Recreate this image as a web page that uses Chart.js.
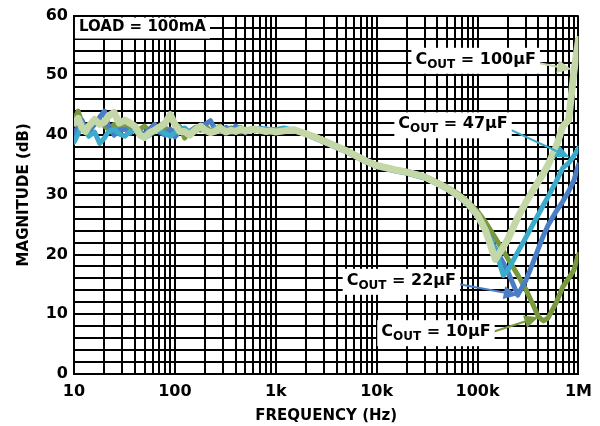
<!DOCTYPE html>
<html>
<head>
<meta charset="utf-8">
<title>Magnitude vs Frequency</title>
<script src="https://cdn.jsdelivr.net/npm/chart.js@4.4.1/dist/chart.umd.min.js"></script>
<style>
  html, body { margin: 0; padding: 0; background: #fff; }
  #wrap { width: 600px; height: 426px; }
</style>
</head>
<body>
<div id="wrap"><canvas id="magChart" width="600" height="426"></canvas></div>
<script>
// Frekuensi (Hz)
const freqs = [
  10, 11, 12, 13, 14, 16, 18, 20, 22, 25,
  28, 32, 36, 40, 45, 50, 56, 63, 70, 80,
  90, 100, 112, 125, 140, 160, 180, 200, 225, 250,
  280, 320, 360, 400, 450, 500, 560, 630, 710, 800,
  900, 1000, 1200, 1500, 1700, 2000, 2500, 3000, 4000, 5000,
  6000, 8000, 10000, 15000, 20000, 30000, 40000, 50000, 60000, 70000,
  80000, 100000, 120000, 150000, 180000, 200000, 250000, 300000, 350000, 400000,
  450000, 500000, 600000, 700000, 800000, 900000, 1000000
];

// Magnitude (dB) per COUT
const mag100uF = [
  42.0, 42.8, 41.2, 40.6, 41.5, 42.6, 41.8, 42.2, 43.2, 43.8,
  42.0, 42.5, 42.0, 41.5, 40.0, 39.6, 40.4, 40.8, 41.3, 42.0,
  43.4, 41.8, 40.6, 40.6, 40.0, 40.9, 41.5, 40.8, 40.4, 40.6,
  41.2, 40.5, 40.8, 40.6, 41.0, 40.7, 40.9, 41.0, 40.8, 40.6,
  40.7, 40.5, 40.7, 40.9, 40.6, 40.2, 39.6, 39.0, 38.1, 37.4,
  36.7, 35.6, 34.9, 34.2, 33.8, 33.0, 31.9, 31.1, 30.2, 29.4,
  28.6, 26.6, 24.0, 19.2, 21.3, 22.6, 26.2, 28.7, 30.6, 32.2,
  33.6, 35.0, 38.0, 41.5, 42.5, 50.5, 56.0
];
const mag47uF = [
  38.8, 40.2, 41.8, 40.8, 39.8, 40.5, 38.6, 39.5, 40.6, 41.0,
  40.2, 39.8, 40.6, 40.8, 40.2, 39.5, 40.0, 40.6, 40.9, 40.3,
  39.8, 40.4, 41.0, 41.2, 40.4, 40.6, 41.4, 40.8, 40.3, 41.2,
  40.6, 41.0, 40.5, 40.9, 41.3, 40.6, 41.0, 40.7, 40.9, 41.1,
  40.8, 40.9, 41.2, 40.8, 40.6, 40.1, 39.5, 38.9, 38.0, 37.3,
  36.6, 35.5, 34.8, 34.1, 33.7, 32.9, 31.8, 31.0, 30.1, 29.3,
  28.4, 26.5, 24.2, 20.8, 16.5, 17.4, 20.4, 22.8, 24.9, 26.7,
  28.3, 29.7, 32.2, 34.5, 35.3, 36.5, 37.8
];
const mag22uF = [
  40.0, 41.5, 42.5, 41.0, 40.5, 41.8, 43.0, 44.0, 41.5, 40.0,
  40.8, 41.0, 40.3, 41.2, 40.5, 40.2, 41.0, 41.8, 40.5, 40.0,
  41.0, 39.7, 40.6, 41.0, 40.5, 41.2, 41.6, 41.8, 42.4, 41.0,
  40.7, 41.3, 40.6, 41.5, 40.9, 40.4, 41.0, 40.8, 41.2, 40.7,
  41.0, 40.8, 41.0, 40.8, 40.5, 40.1, 39.4, 38.8, 37.9, 37.2,
  36.5, 35.4, 34.7, 34.0, 33.6, 32.8, 31.8, 30.9, 30.0, 29.2,
  28.3, 26.3, 24.3, 21.0, 18.6, 17.1, 13.2, 15.6, 18.4, 21.0,
  23.2, 24.9, 27.2, 28.9, 30.6, 32.4, 35.0
];
const mag10uF = [
  42.5, 44.0, 42.0, 41.0, 41.2, 41.8, 42.6, 41.5, 41.0, 41.8,
  41.3, 42.0, 41.2, 40.8, 41.0, 41.5, 40.6, 40.8, 41.5, 41.2,
  40.6, 40.8, 41.4, 39.5, 40.6, 41.3, 40.8, 41.6, 40.7, 40.9,
  41.5, 40.6, 41.2, 40.8, 40.5, 41.0, 40.7, 40.9, 40.6, 40.8,
  40.5, 40.6, 40.8, 40.7, 40.5, 40.3, 39.7, 39.1, 38.2, 37.5,
  36.8, 35.7, 35.0, 34.3, 33.9, 33.1, 32.1, 31.3, 30.5, 29.7,
  28.9, 27.2, 25.4, 22.8, 20.6, 19.3, 16.6, 14.2, 11.8, 9.6,
  8.9, 9.4, 11.9, 14.6, 16.0, 17.4, 20.0
];

// Label sumbu
const decades = [10, 100, 1000, 10000, 100000, 1000000];
const freqTickLabels = ["10", "100", "1k", "10k", "100k", "1M"];
const magTickLabels = [0, 10, 20, 30, 40, 50, 60];

const FONT = "'DejaVu Sans', 'Liberation Sans', sans-serif";

// Garis grid log: 1..9 per dekade
function buildFreqGrid() {
  const grid = [];
  for (let d = 0; d < decades.length - 1; d++) {
    for (let m = 1; m <= 9; m++) grid.push(decades[d] * m);
  }
  grid.push(decades[decades.length - 1]);
  return grid;
}

function toPoints(values) {
  return freqs.map((f, i) => ({ x: f, y: values[i] }));
}

// Anotasi (posisi dalam koordinat data)
const notes = [
  { rest: " = 100µF", color: "#c4d7a6", at: [24200, 52.6], tail: [368000, 52.2], tip: [850000, 51.0] },
  { rest: " = 47µF", color: "#3aabcb", at: [16400, 41.8], tail: [182000, 41.4], tip: [815000, 36.3] },
  { rest: " = 22µF", color: "#4a7ec4", at: [5040, 15.6], tail: [58500, 15.2], tip: [250000, 13.2] },
  { rest: " = 10µF", color: "#77983d", at: [11100, 7.0], tail: [118000, 6.6], tip: [400000, 9.5] }
];
const loadNote = { text: "LOAD = 100mA", at: [11.2, 58.0] };

function drawArrow(ctx, x1, y1, x2, y2, color) {
  const ang = Math.atan2(y2 - y1, x2 - x1);
  const len = 14, half = 6.5;
  const bx = x2 - len * Math.cos(ang), by = y2 - len * Math.sin(ang);
  ctx.strokeStyle = color;
  ctx.fillStyle = color;
  ctx.lineWidth = 2;
  ctx.beginPath();
  ctx.moveTo(x1, y1);
  ctx.lineTo(bx, by);
  ctx.stroke();
  ctx.beginPath();
  ctx.moveTo(x2, y2);
  ctx.lineTo(bx + half * Math.sin(ang), by - half * Math.cos(ang));
  ctx.lineTo(bx - half * Math.sin(ang), by + half * Math.cos(ang));
  ctx.closePath();
  ctx.fill();
}

const notePlugin = {
  id: "notes",
  afterDatasetsDraw(chart) {
    const ctx = chart.ctx;
    const xs = chart.scales.x, ys = chart.scales.y;
    const big = "bold 16px " + FONT, small = "bold 12px " + FONT;
    ctx.save();
    ctx.textBaseline = "middle";
    ctx.textAlign = "left";

    // LOAD = 100mA
    ctx.font = "bold 15px " + FONT;
    let lx = xs.getPixelForValue(loadNote.at[0]);
    let ly = ys.getPixelForValue(loadNote.at[1]);
    let w = ctx.measureText(loadNote.text).width;
    ctx.fillStyle = "#fff";
    ctx.fillRect(lx - 4, ly - 10, w + 8, 21);
    ctx.fillStyle = "#000";
    ctx.fillText(loadNote.text, lx, ly);

    notes.forEach(n => {
      drawArrow(ctx,
        xs.getPixelForValue(n.tail[0]), ys.getPixelForValue(n.tail[1]),
        xs.getPixelForValue(n.tip[0]), ys.getPixelForValue(n.tip[1]), n.color);

      const x = xs.getPixelForValue(n.at[0]);
      const y = ys.getPixelForValue(n.at[1]);
      ctx.font = big;
      const wC = ctx.measureText("C").width;
      const wR = ctx.measureText(n.rest).width;
      ctx.font = small;
      const wS = ctx.measureText("OUT").width;
      ctx.fillStyle = "#fff";
      ctx.fillRect(x - 4, y - 12, wC + wS + wR + 8, 26);
      ctx.fillStyle = "#000";
      ctx.font = big;
      ctx.fillText("C", x, y);
      ctx.font = small;
      ctx.fillText("OUT", x + wC, y + 5);
      ctx.font = big;
      ctx.fillText(n.rest, x + wC + wS, y);
    });
    ctx.restore();
  }
};

function setupChart() {
  const ctx = document.getElementById("magChart").getContext("2d");
  const freqGrid = buildFreqGrid();
  const line = (label, values, color, width) => ({
    label: label,
    data: toPoints(values),
    borderColor: color,
    borderWidth: width,
    pointRadius: 0,
    tension: 0,
    borderJoinStyle: "round",
    borderCapStyle: "round",
    fill: false
  });

  new Chart(ctx, {
    type: "line",
    data: {
      datasets: [
        line("COUT = 100µF", mag100uF, "#c4d7a6", 7),
        line("COUT = 47µF", mag47uF, "#3aabcb", 5),
        line("COUT = 22µF", mag22uF, "#4a7ec4", 5),
        line("COUT = 10µF", mag10uF, "#77983d", 5)
      ]
    },
    options: {
      responsive: false,
      animation: false,
      layout: { padding: { top: 10, right: 19, left: 0, bottom: 0 } },
      plugins: {
        legend: { display: false },
        tooltip: { enabled: false }
      },
      scales: {
        x: {
          type: "logarithmic",
          min: 10,
          max: 1000000,
          afterBuildTicks: scale => {
            scale.ticks = freqGrid.map(v => ({ value: v }));
          },
          afterFit: scale => { scale.height = 52; },
          grid: { color: "#000", lineWidth: 2, drawTicks: false },
          border: { display: true, color: "#000", width: 2 },
          ticks: {
            autoSkip: false,
            maxRotation: 0,
            padding: 8,
            color: "#000",
            font: { family: FONT, size: 16, weight: "bold" },
            callback: value => {
              const i = decades.indexOf(value);
              return i >= 0 ? freqTickLabels[i] : "";
            }
          },
          title: {
            display: true,
            text: "FREQUENCY (Hz)",
            color: "#000",
            font: { family: FONT, size: 15, weight: "bold" },
            padding: { top: 0, bottom: 1 }
          }
        },
        y: {
          min: 0,
          max: 60,
          afterFit: scale => { scale.width = 74; },
          grid: { color: "#000", lineWidth: 2, drawTicks: false },
          border: { display: true, color: "#000", width: 2 },
          ticks: {
            stepSize: 2,
            autoSkip: false,
            padding: 6,
            color: "#000",
            font: { family: FONT, size: 16, weight: "bold" },
            callback: value => magTickLabels.includes(value) ? String(value) : ""
          },
          title: {
            display: true,
            text: "MAGNITUDE (dB)",
            color: "#000",
            font: { family: FONT, size: 15, weight: "bold" },
            padding: { top: 15, bottom: 0 }
          }
        }
      }
    },
    plugins: [notePlugin]
  });
}

document.addEventListener("DOMContentLoaded", setupChart);
</script>
</body>
</html>
